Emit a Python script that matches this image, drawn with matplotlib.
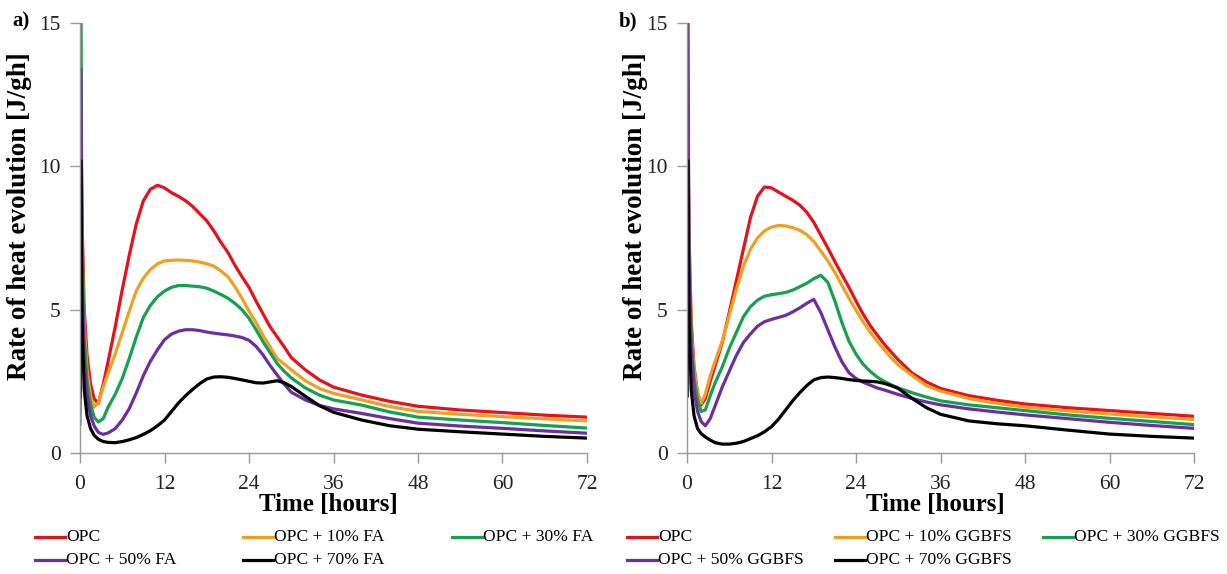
import numpy as np
import matplotlib
matplotlib.use("Agg")
import matplotlib.pyplot as plt
from matplotlib.lines import Line2D

plt.rcParams['font.family'] = ['Liberation Serif', 'DejaVu Serif']

# common time grid [hours]
t = [0, 0.1, 0.3, 0.6, 1.0, 1.5, 2.0, 2.6, 3.3, 4, 5, 6, 7, 8, 9, 10, 11, 12, 13, 14,
     15, 16, 17, 18, 19, 20, 21, 22, 23, 24, 25, 26, 27, 28, 29, 30, 32, 34, 36, 40,
     44, 48, 54, 60, 66, 72]

# panel a) fly ash
a_opc = [1.5, 12, 8, 5.0, 3.4, 2.4, 1.9, 1.72, 2.4, 3.2, 4.4, 5.7, 6.9, 8.0, 8.8, 9.2, 9.34, 9.25, 9.08, 8.95,
         8.8, 8.6, 8.35, 8.1, 7.75, 7.35, 7.0, 6.55, 6.15, 5.78, 5.3, 4.85, 4.4, 4.05, 3.7, 3.33, 2.9, 2.55, 2.3, 2.02,
         1.8, 1.63, 1.5, 1.41, 1.32, 1.25]
a_fa10 = [1.4, 11, 7, 4.5, 2.9, 2.0, 1.6, 1.75, 2.3, 2.8, 3.45, 4.2, 4.95, 5.66, 6.1, 6.4, 6.6, 6.7, 6.72, 6.73,
          6.72, 6.7, 6.66, 6.6, 6.52, 6.35, 6.15, 5.8, 5.4, 4.95, 4.55, 4.1, 3.7, 3.3, 3.1, 2.9, 2.52, 2.25, 2.08, 1.85,
          1.62, 1.45, 1.35, 1.27, 1.19, 1.12]
a_fa30 = [1.0, 15.5, 7, 4.0, 2.5, 1.7, 1.25, 1.08, 1.2, 1.6, 2.05, 2.6, 3.3, 4.05, 4.73, 5.15, 5.45, 5.65, 5.78, 5.84,
          5.84, 5.82, 5.8, 5.75, 5.65, 5.53, 5.4, 5.22, 5.0, 4.7, 4.3, 3.88, 3.5, 3.12, 2.85, 2.62, 2.27, 2.02, 1.85, 1.67,
          1.43, 1.25, 1.15, 1.06, 0.96, 0.87]
a_fa50 = [2.0, 13.4, 6, 3.2, 2.0, 1.3, 0.95, 0.72, 0.65, 0.7, 0.85, 1.15, 1.55, 2.1, 2.7, 3.2, 3.6, 3.95, 4.15, 4.25,
          4.3, 4.3, 4.27, 4.22, 4.18, 4.15, 4.12, 4.08, 4.03, 3.93, 3.72, 3.42, 3.05, 2.72, 2.4, 2.12, 1.85, 1.66, 1.54, 1.38,
          1.2, 1.04, 0.94, 0.86, 0.77, 0.69]
a_fa70 = [1.95, 10.2, 4.5, 2.2, 1.3, 0.85, 0.62, 0.48, 0.4, 0.37, 0.36, 0.4, 0.46, 0.54, 0.65, 0.78, 0.95, 1.15, 1.45, 1.75,
          2.0, 2.22, 2.42, 2.58, 2.65, 2.66, 2.64, 2.6, 2.55, 2.5, 2.45, 2.44, 2.48, 2.52, 2.45, 2.32, 1.98, 1.65, 1.42, 1.15,
          0.95, 0.83, 0.74, 0.66, 0.58, 0.52]

# panel b) ground granulated blast furnace slag
b_opc = [2.0, 12, 7.5, 4.6, 3.0, 2.1, 1.67, 1.9, 2.5, 3.05, 3.85, 4.9, 6.0, 7.1, 8.2, 8.95, 9.28, 9.25, 9.1, 8.96,
         8.82, 8.65, 8.4, 8.05, 7.6, 7.15, 6.68, 6.22, 5.78, 5.3, 4.85, 4.45, 4.12, 3.8, 3.52, 3.25, 2.78, 2.48, 2.25, 2.0,
         1.84, 1.71, 1.58, 1.48, 1.38, 1.28]
b_gg10 = [2.0, 11, 7, 4.3, 2.9, 2.1, 1.73, 2.05, 2.7, 3.2, 3.9, 4.8, 5.7, 6.5, 7.1, 7.5, 7.75, 7.88, 7.94, 7.92,
          7.86, 7.77, 7.62, 7.38, 7.05, 6.7, 6.3, 5.85, 5.4, 4.98, 4.58, 4.22, 3.9, 3.6, 3.32, 3.07, 2.7, 2.35, 2.16, 1.9,
          1.73, 1.6, 1.47, 1.36, 1.26, 1.17]
b_gg30 = [2.0, 11, 6.5, 4.0, 2.6, 1.85, 1.45, 1.5, 2.0, 2.45, 3.0, 3.65, 4.2, 4.75, 5.1, 5.33, 5.47, 5.52, 5.56, 5.6,
          5.68, 5.8, 5.92, 6.08, 6.2, 5.95, 5.3, 4.55, 3.9, 3.45, 3.1, 2.85, 2.65, 2.5, 2.38, 2.27, 2.1, 1.95, 1.82, 1.68,
          1.58, 1.48, 1.33, 1.21, 1.1, 0.99]
b_gg50 = [2.0, 15.5, 6.5, 3.6, 2.2, 1.45, 1.1, 0.95, 1.2, 1.65, 2.3, 2.85, 3.4, 3.85, 4.15, 4.42, 4.58, 4.66, 4.73, 4.8,
          4.92, 5.06, 5.22, 5.36, 4.9, 4.3, 3.7, 3.18, 2.8, 2.6, 2.47, 2.37, 2.27, 2.2, 2.12, 2.04, 1.9, 1.78, 1.68, 1.54,
          1.43, 1.33, 1.2, 1.07, 0.96, 0.86]
b_gg70 = [2.0, 10.2, 4.5, 2.2, 1.3, 0.85, 0.68, 0.56, 0.45, 0.36, 0.31, 0.31, 0.34, 0.4, 0.5, 0.6, 0.74, 0.92, 1.18, 1.5,
          1.82, 2.1, 2.35, 2.55, 2.63, 2.65, 2.63, 2.6, 2.56, 2.53, 2.51, 2.5, 2.48, 2.43, 2.35, 2.25, 1.9, 1.58, 1.35, 1.12,
          1.02, 0.95, 0.8, 0.66, 0.58, 0.52]

colors = ['#e3121b', '#f0a020', '#16a04f', '#6b2fa0', '#000000']
labels_a = ['OPC', 'OPC + 10% FA', 'OPC + 30% FA', 'OPC + 50% FA', 'OPC + 70% FA']
labels_b = ['OPC', 'OPC + 10% GGBFS', 'OPC + 30% GGBFS', 'OPC + 50% GGBFS', 'OPC + 70% GGBFS']

W, H = 1227, 574
fig = plt.figure(figsize=(W / 100, H / 100), dpi=100)

# (axis x px, tag, series, labels, ylabel offset px, legend column x px)
panels = [
    (80, 'a)', [a_opc, a_fa10, a_fa30, a_fa50, a_fa70], labels_a, 60, [35, 243, 452]),
    (687, 'b)', [b_opc, b_gg10, b_gg30, b_gg50, b_gg70], labels_b, 52, [627, 835, 1043]),
]
leg_rows = [537, 560]
leg_slots = [(0, 0), (1, 0), (2, 0), (0, 1), (1, 1)]  # (column, row) for each series

for x0, tag, series, labels, yl_off, legcols in panels:
    ax = fig.add_axes([x0 / W, (H - 453) / H, 507 / W, 430 / H])
    for vals, c, lab in zip(series, colors, labels):
        ax.plot(t, vals, color=c, lw=2.3, label=lab, solid_joinstyle='round')
    ax.set_xlim(0, 72)
    ax.set_ylim(0, 15)
    ax.set_xticks(np.arange(0, 73, 12))
    ax.set_yticks([0, 5, 10, 15])
    for s in ['top', 'right']:
        ax.spines[s].set_visible(False)
    for s in ['left', 'bottom']:
        ax.spines[s].set_color('#9a9a9a')
        ax.spines[s].set_linewidth(1.0)
    ax.tick_params(axis='both', direction='out', length=7, width=1, color='#9a9a9a',
                   labelsize=15.5, labelcolor='#222222')
    ax.tick_params(axis='x', pad=9)
    ax.tick_params(axis='y', pad=7)
    ax.text(0.49, (453 - 505) / 430, 'Time [hours]', transform=ax.transAxes,
            fontsize=18, fontweight='bold', ha='center', va='center')
    ax.text(-yl_off / 507, (453 - 216) / 430, 'Rate of heat evolution [J/gh]', transform=ax.transAxes,
            fontsize=19.5, fontweight='bold', ha='center', va='center', rotation=90)
    fig.text((x0 - 68) / W, 1 - 21 / H, tag, fontsize=15, fontweight='bold', ha='left', va='center')

    # legend laid out on a fixed grid like the original
    for (col, row), c, lab in zip(leg_slots, colors, labels):
        lx = legcols[col]
        ly = 1 - leg_rows[row] / H
        fig.add_artist(Line2D([lx / W, (lx + 30) / W], [ly, ly], color=c, lw=2.3,
                              transform=fig.transFigure))
        fig.text((lx + 31) / W, ly, lab, fontsize=12.6, ha='left', va='center')

fig.savefig('out.png', dpi=100)
